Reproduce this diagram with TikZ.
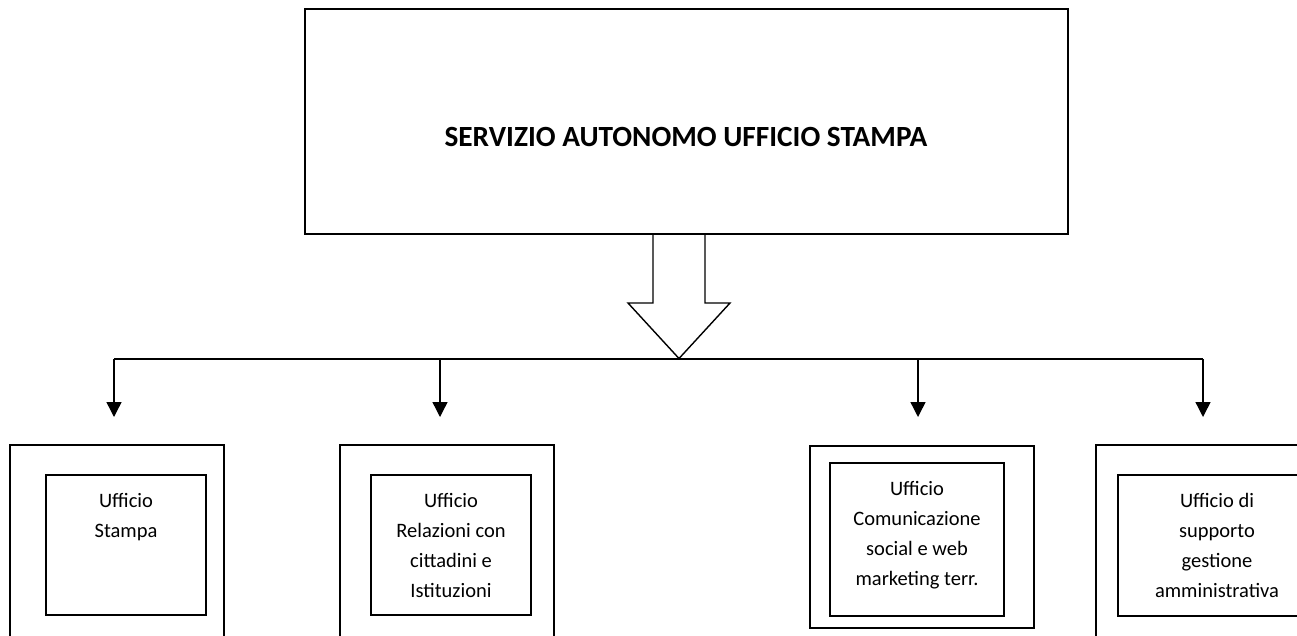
\documentclass[tikz,border=0pt]{standalone}
\usepackage{fontspec}
\setmainfont{Carlito}
\usetikzlibrary{arrows.meta}
\tikzset{
  box/.style={draw=black, line width=1.4pt, rectangle, inner sep=0pt, fill=none},
  lbl/.style={font=\fontsize{20.5}{30}\selectfont, align=center, anchor=north, inner sep=0pt},
  link/.style={draw=black, line width=1.4pt},
  arr/.style={link, -{Triangle[width=15pt,length=15pt]}},
}
\begin{document}
\begin{tikzpicture}[x=1pt,y=-1pt]
\useasboundingbox (0,0) rectangle (1297,635);
\fill[white] (0,0) rectangle (1297,635);
\clip (0,0) rectangle (1297,635);

% top box
\node[box, minimum width=763pt, minimum height=225pt] (top) at (686.5,121.5) {};
\node[inner sep=0pt, font=\fontsize{29.3}{34}\selectfont\bfseries] (title) at (686,137)
  {SERVIZIO AUTONOMO UFFICIO STAMPA};

% block arrow
\draw[link, line join=miter] (653,234) -- (653,303) -- (628,303) -- (679,358.5) -- (730,303) -- (705,303) -- (705,234);

% horizontal distribution line
\coordinate (h1) at (114,359);
\coordinate (h2) at (440,359);
\coordinate (h3) at (918,359);
\coordinate (h4) at (1203,359);
\coordinate (a1) at (114,417);
\coordinate (a2) at (440,417);
\coordinate (a3) at (918,417);
\coordinate (a4) at (1203,417);
\draw[link] (h1) -- (h4);
\draw[arr] (h1) -- (a1);
\draw[arr] (h2) -- (a2);
\draw[arr] (h3) -- (a3);
\draw[arr] (h4) -- (a4);

% outer boxes
\node[box, minimum width=214pt, minimum height=220pt] (o1) at (117,555) {};
\node[box, minimum width=214pt, minimum height=220pt] (o2) at (447,555) {};
\node[box, minimum width=224pt, minimum height=182pt] (o3) at (922,537) {};
\node[box, minimum width=240pt, minimum height=220pt] (o4) at (1216,555) {};

% inner boxes
\node[box, minimum width=160pt, minimum height=140pt] (i1) at (126,545) {};
\node[box, minimum width=160pt, minimum height=140pt] (i2) at (451,545) {};
\node[box, minimum width=174pt, minimum height=153pt] (i3) at (917,539.5) {};
\node[box, minimum width=200pt, minimum height=141pt] (i4) at (1218,545.5) {};

% labels
\node[lbl] (t1) at (126,493) {Ufficio\\Stampa};
\node[lbl] (t2) at (451,493) {Ufficio\\Relazioni con\\cittadini e\\Istituzioni};
\node[lbl] (t3) at (917,481) {Ufficio\\Comunicazione\\social e web\\marketing terr.};
\node[lbl] (t4) at (1217,493) {Ufficio di\\supporto\\gestione\\amministrativa};
\end{tikzpicture}
\end{document}
